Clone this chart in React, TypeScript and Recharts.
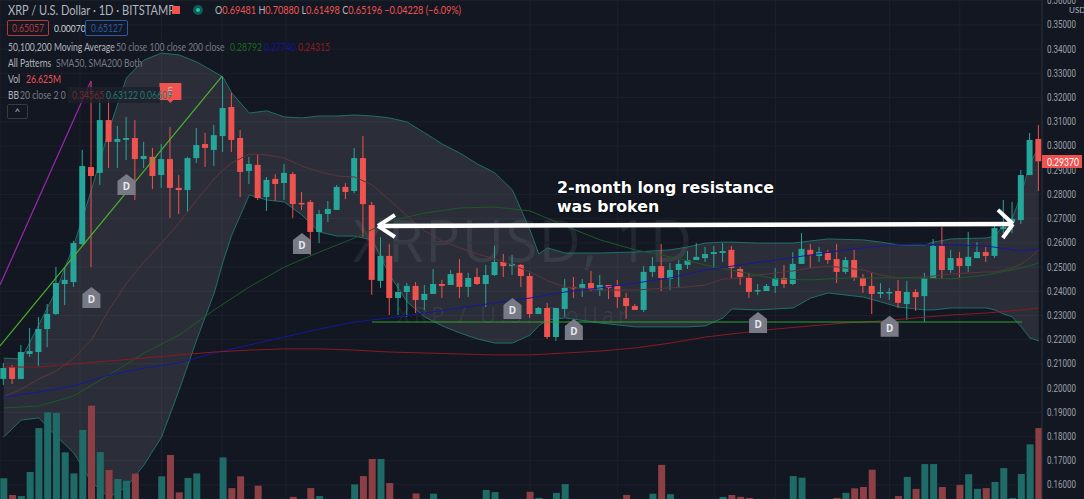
import {
  ComposedChart,
  Bar,
  Cell,
  Line,
  Area,
  XAxis,
  YAxis,
  CartesianGrid,
  ReferenceLine,
  ReferenceDot,
} from "recharts"

const opens = [
  0.2038, 0.2087, 0.2038, 0.2141, 0.2149, 0.2244, 0.2306, 0.243, 0.2438, 0.2595,
  0.2913, 0.2889, 0.3107, 0.3017, 0.3025, 0.3033, 0.2946, 0.2955, 0.288, 0.2946,
  0.2827, 0.2818, 0.295, 0.3008, 0.2984, 0.3041, 0.3161, 0.3033, 0.2897, 0.2922,
  0.2789, 0.2864, 0.2847, 0.2884, 0.2765, 0.2769, 0.2645, 0.2719, 0.2736, 0.2831,
  0.2814, 0.295, 0.2756, 0.2443, 0.2546, 0.2372, 0.2397, 0.2422, 0.2364, 0.2389,
  0.243, 0.2426, 0.2476, 0.2418, 0.2459, 0.243, 0.2467, 0.2521, 0.2504, 0.2509,
  0.2463, 0.2306, 0.2331, 0.2211, 0.2327, 0.2418, 0.2414, 0.2434, 0.2405, 0.2426,
  0.2422, 0.2372, 0.2339, 0.2323, 0.248, 0.2504, 0.2451, 0.2488, 0.2509, 0.2529,
  0.2537, 0.2554, 0.2558, 0.2571, 0.2492, 0.2455, 0.2401, 0.2401, 0.2422, 0.2455,
  0.243, 0.2513, 0.2571, 0.2546, 0.2558, 0.2533, 0.248, 0.2529, 0.2455, 0.2422,
  0.2389, 0.2393, 0.2401, 0.2347, 0.2397, 0.238, 0.2455, 0.2587, 0.2488, 0.2537,
  0.2504, 0.2537, 0.2562, 0.2546, 0.2657, 0.2686, 0.2694, 0.288, 0.3029,
]
const highs = [
  0.2104, 0.2095, 0.2178, 0.2248, 0.2294, 0.2347, 0.25, 0.25, 0.2608, 0.2984,
  0.3268, 0.3202, 0.319, 0.3083, 0.312, 0.3107, 0.3017, 0.2992, 0.3008, 0.3078,
  0.288, 0.2955, 0.3074, 0.3054, 0.3087, 0.3285, 0.3219, 0.3066, 0.2955, 0.2963,
  0.2872, 0.2884, 0.2926, 0.2893, 0.281, 0.2777, 0.2736, 0.2773, 0.2839, 0.2847,
  0.2992, 0.3041, 0.2769, 0.2624, 0.2595, 0.2434, 0.2434, 0.2438, 0.2426, 0.2492,
  0.2447, 0.2488, 0.2533, 0.2476, 0.2496, 0.2509, 0.2587, 0.2554, 0.255, 0.2513,
  0.2476, 0.2335, 0.2352, 0.2331, 0.2451, 0.2459, 0.2451, 0.2484, 0.2467, 0.2426,
  0.2447, 0.2393, 0.2347, 0.2504, 0.2542, 0.2595, 0.2517, 0.2529, 0.2566, 0.2599,
  0.2583, 0.2587, 0.2599, 0.2587, 0.25, 0.2476, 0.243, 0.243, 0.2496, 0.2509,
  0.2562, 0.2641, 0.2595, 0.2583, 0.2571, 0.2595, 0.2542, 0.2571, 0.2471, 0.2476,
  0.2434, 0.2414, 0.2447, 0.2443, 0.2409, 0.2476, 0.2616, 0.2665, 0.2571, 0.2562,
  0.2645, 0.2603, 0.2583, 0.2682, 0.2777, 0.2769, 0.2901, 0.3054, 0.3087,
]
const lows = [
  0.2013, 0.2017, 0.2038, 0.2129, 0.2091, 0.217, 0.2302, 0.2343, 0.2418, 0.2591,
  0.25, 0.2839, 0.2909, 0.2909, 0.2942, 0.2777, 0.2909, 0.2822, 0.2827, 0.2703,
  0.2719, 0.2727, 0.293, 0.2913, 0.2917, 0.2975, 0.2975, 0.2789, 0.2843, 0.2777,
  0.2732, 0.2773, 0.2777, 0.2703, 0.2736, 0.255, 0.2599, 0.2686, 0.2736, 0.2781,
  0.2805, 0.2624, 0.2385, 0.2414, 0.2302, 0.2302, 0.2294, 0.231, 0.2323, 0.2389,
  0.2372, 0.2426, 0.2372, 0.2376, 0.2426, 0.2335, 0.2463, 0.2459, 0.2467, 0.2418,
  0.229, 0.2306, 0.2203, 0.2195, 0.2294, 0.2372, 0.2376, 0.2401, 0.238, 0.2368,
  0.2331, 0.2286, 0.2323, 0.2314, 0.2459, 0.2401, 0.2405, 0.2418, 0.2492, 0.2529,
  0.2521, 0.2496, 0.2521, 0.2455, 0.2426, 0.2372, 0.2385, 0.2401, 0.2393, 0.2414,
  0.2426, 0.2513, 0.2496, 0.2521, 0.2513, 0.2434, 0.2471, 0.2443, 0.2393, 0.2306,
  0.2372, 0.2364, 0.2331, 0.2281, 0.2319, 0.2273, 0.2451, 0.2451, 0.2476, 0.2455,
  0.248, 0.2537, 0.2521, 0.2537, 0.2641, 0.2641, 0.2678, 0.288, 0.2814,
]
const closes = [
  0.2083, 0.2038, 0.2149, 0.2153, 0.2244, 0.2306, 0.2434, 0.2447, 0.2599, 0.2917,
  0.2876, 0.3107, 0.3017, 0.3029, 0.3033, 0.2946, 0.2959, 0.2876, 0.2946, 0.2827,
  0.2818, 0.295, 0.3004, 0.2992, 0.3045, 0.3157, 0.3025, 0.2893, 0.2926, 0.2785,
  0.286, 0.2843, 0.2889, 0.276, 0.276, 0.2645, 0.2719, 0.274, 0.2831, 0.281,
  0.295, 0.276, 0.2447, 0.2546, 0.2372, 0.2397, 0.2422, 0.2364, 0.2389, 0.243,
  0.2422, 0.2471, 0.2418, 0.2455, 0.243, 0.2467, 0.2521, 0.2504, 0.2513, 0.2463,
  0.2306, 0.2331, 0.2211, 0.2331, 0.2414, 0.2414, 0.243, 0.2405, 0.2426, 0.2414,
  0.2376, 0.2339, 0.2323, 0.248, 0.2504, 0.2455, 0.2488, 0.2513, 0.2529, 0.2542,
  0.2554, 0.2562, 0.2566, 0.2496, 0.2459, 0.2397, 0.2405, 0.2422, 0.2455, 0.243,
  0.2513, 0.2575, 0.255, 0.2562, 0.2529, 0.248, 0.2529, 0.2455, 0.2422, 0.2389,
  0.2397, 0.2397, 0.2352, 0.2397, 0.2376, 0.2455, 0.2587, 0.2488, 0.2537, 0.2504,
  0.2542, 0.2562, 0.2546, 0.2661, 0.2665, 0.2699, 0.288, 0.3025, 0.2937,
]
// volume in millions
const volumes = [
  7.8, 1.5, 1.1, 10.1, 26.6, 32.5, 32.3, 17.5, 9.6, 25.9,
  35, 17.6, 10.9, 7.5, 6.8, 9.5, 0, 0, 8.5, 16.5,
  2.5, 7.9, 9.6, 0, 0, 15.6, 4.1, 8.5, 0, 5,
  0, 0, 0, 0.8, 0, 4.1, 1.1, 0, 0, 0,
  5.5, 8.6, 15, 15, 6, 0, 0, 2.1, 0, 2,
  0, 0, 0, 0, 0, 3.4, 2.6, 0, 0, 0,
  2.7, 0.4, 0, 2.3, 5.6, 0, 0, 0, 0, 0,
  0, 1.5, 0, 0, 2, 12.8, 1.8, 0, 0, 0,
  0, 0, 0.8, 1.5, 0.8, 0.4, 0, 0, 0, 0,
  8.6, 8, 0, 0, 0, 0.4, 2.3, 4, 4.5, 11,
  0, 0, 1.1, 8.3, 3.8, 13.1, 13.1, 4.5, 0, 5.3,
  9.3, 3.8, 4.1, 6.4, 11.6, 0.4, 9.4, 20.5, 26.6,
]

const bbDays = [
  0, 2, 4, 6, 8, 10, 12, 14, 16, 18, 20, 22, 24, 25, 26, 28, 30, 32, 34, 36,
  38, 40, 42, 44, 46, 48, 50, 52, 54, 56, 58, 60, 61, 62, 64, 68, 72, 76, 78, 80,
  82, 83, 86, 90, 92, 94, 98, 100, 102, 105, 106, 108, 112, 113, 114, 115, 116, 117, 118,
]
const bbUpper = [
  0.2124, 0.212, 0.2261, 0.2405, 0.2591, 0.2818, 0.3066, 0.3281, 0.3355, 0.3384,
  0.3376, 0.3347, 0.3306, 0.3285, 0.3219, 0.3136, 0.3145, 0.312, 0.3116, 0.3124,
  0.3124, 0.3128, 0.3124, 0.3116, 0.3099, 0.3054, 0.3008, 0.2971, 0.2926, 0.2889,
  0.2818, 0.2653, 0.2554, 0.2579, 0.2558, 0.2558, 0.2562, 0.2571, 0.2583, 0.2599,
  0.2603, 0.2603, 0.2599, 0.2599, 0.2608, 0.2616, 0.2612, 0.2603, 0.2591, 0.2591,
  0.2603, 0.2616, 0.262, 0.2628, 0.2674, 0.2703, 0.2798, 0.293, 0.2992,
]
const bbLower = [
  0.1798, 0.1868, 0.1877, 0.1802, 0.1732, 0.1612, 0.155, 0.1592, 0.1683, 0.1798,
  0.1992, 0.2199, 0.2393, 0.2521, 0.2632, 0.2798, 0.2777, 0.2769, 0.2715, 0.2645,
  0.2628, 0.2628, 0.2612, 0.2467, 0.2356, 0.2294, 0.2257, 0.2228, 0.2203, 0.2186,
  0.2186, 0.2219, 0.2257, 0.2281, 0.229, 0.2269, 0.2253, 0.2253, 0.2253, 0.2257,
  0.229, 0.2327, 0.2323, 0.2331, 0.2372, 0.2393, 0.2376, 0.2356, 0.2335, 0.2323,
  0.2323, 0.2331, 0.2331, 0.2323, 0.2306, 0.2294, 0.2253, 0.2207, 0.2195,
]
const bbBasis = [
  0.1963, 0.1996, 0.2038, 0.2071, 0.2124, 0.2199, 0.2323, 0.2434, 0.2521, 0.2599,
  0.2682, 0.2777, 0.2864, 0.2901, 0.293, 0.2967, 0.2963, 0.295, 0.2917, 0.2893,
  0.2876, 0.2872, 0.2839, 0.2777, 0.2711, 0.2649, 0.2608, 0.2579, 0.2554, 0.2533,
  0.2509, 0.248, 0.2463, 0.2443, 0.2418, 0.2405, 0.2405, 0.2414, 0.2418, 0.2426,
  0.2451, 0.2451, 0.2467, 0.2484, 0.2496, 0.2504, 0.2488, 0.2467, 0.2455, 0.2459,
  0.2463, 0.2471, 0.248, 0.248, 0.2488, 0.2496, 0.2513, 0.2537, 0.2571,
]

const maDays = [
  0, 4, 8, 12, 16, 20, 24, 28, 32, 36, 40, 44, 48, 52, 56, 60, 64, 68, 72, 76,
  80, 84, 88, 92, 96, 100, 104, 108, 112, 116, 118,
]
const sma50 = [
  0.1918, 0.1926, 0.1968, 0.2054, 0.2145, 0.2219, 0.2323, 0.2418, 0.25, 0.2562,
  0.262, 0.269, 0.2723, 0.2744, 0.2748, 0.2732, 0.267, 0.2612, 0.2571, 0.2542,
  0.2509, 0.248, 0.2451, 0.2447, 0.2455, 0.2455, 0.2455, 0.2451, 0.2467, 0.2496, 0.2517,
]
const sma100 = [
  0.1963, 0.1984, 0.2009, 0.2054, 0.2083, 0.2104, 0.2145, 0.2178, 0.2211, 0.2244,
  0.2273, 0.229, 0.231, 0.2331, 0.2352, 0.2372, 0.2397, 0.2414, 0.2434, 0.2455,
  0.2488, 0.2509, 0.2529, 0.255, 0.2571, 0.2587, 0.2595, 0.2591, 0.2587, 0.2566, 0.2575,
]
const sma200 = [
  0.2087, 0.2087, 0.21, 0.2112, 0.2124, 0.2137, 0.2149, 0.2157, 0.2162, 0.2162,
  0.2157, 0.2149, 0.2145, 0.2141, 0.2137, 0.2137, 0.2145, 0.2153, 0.2166, 0.2186,
  0.2211, 0.2228, 0.2244, 0.2257, 0.2269, 0.2277, 0.229, 0.2302, 0.231, 0.2323, 0.2331,
]

const dividendDays = [14, 34, 10, 58, 65, 86, 101]
const dividendPrices = [0.2839, 0.2595, 0.2372, 0.2327, 0.224, 0.2269, 0.2253]

const priceTicks = [
  0.16, 0.17, 0.18, 0.19, 0.2, 0.21, 0.22, 0.23, 0.24, 0.25, 0.26, 0.27, 0.28, 0.29,
  0.3, 0.31, 0.32, 0.33, 0.34, 0.35, 0.36,
]
const gridDays = [8.7, 18, 24.9, 32.2, 60, 70, 81, 88, 101, 109]

const UP = "#26a69a"
const DOWN = "#ef5350"
const X_DOMAIN = [-0.42, 118.37]

const candleRows = opens.map((open, i) => ({
  day: i,
  open,
  high: highs[i],
  low: lows[i],
  close: closes[i],
  volume: volumes[i],
}))
const bbRows = bbDays.map((day, i) => ({
  day,
  upper: bbUpper[i],
  lower: bbLower[i],
  basis: bbBasis[i],
}))
const maRows = maDays.map((day, i) => ({
  day,
  sma50: sma50[i],
  sma100: sma100[i],
  sma200: sma200[i],
}))

function Candle(props: any) {
  const { x, y, width, height, payload } = props
  const { open, high, low, close } = payload
  const perUnit = height / (high - low)
  const yOf = (v: number) => y + (high - v) * perUnit
  const color = close >= open ? UP : DOWN
  const top = yOf(Math.max(open, close))
  const bottom = yOf(Math.min(open, close))
  const mid = x + width / 2
  return (
    <g>
      <line x1={mid} x2={mid} y1={y} y2={y + height} stroke={color} strokeWidth={1} />
      <rect x={x} y={top} width={width} height={Math.max(bottom - top, 1.5)} fill={color} />
    </g>
  )
}

function DividendMark({ cx, cy }: any) {
  return (
    <g>
      <path
        d={`M${cx - 9} ${cy - 4} L${cx} ${cy - 11} L${cx + 9} ${cy - 4} L${cx + 9} ${cy + 10} L${cx - 9} ${cy + 10} Z`}
        fill="#787b86"
      />
      <text x={cx} y={cy + 5} textAnchor="middle" fontSize={10} fontFamily="Noto Sans" fontWeight={700} fill="#e6e7ea">
        D
      </text>
    </g>
  )
}

function EarningsMark({ cx, cy }: any) {
  return (
    <g>
      <path
        d={`M${cx - 11} ${cy - 9} L${cx + 11} ${cy - 9} L${cx + 11} ${cy + 8} L${cx + 3} ${cy + 8} L${cx} ${cy + 11} L${cx - 3} ${cy + 8} L${cx - 11} ${cy + 8} Z`}
        fill={DOWN}
      />
      <text x={cx} y={cy + 3} textAnchor="middle" fontSize={10} fontFamily="Noto Sans" fill="#c9a3a6">
        E
      </text>
    </g>
  )
}

function PriceTick({ x, y, payload }: any) {
  return (
    <text
      x={x}
      y={y + 3.5}
      fontSize={10.5}
      fontFamily="Roboto"
      fill="#9da0a8"
      textLength={29}
      lengthAdjust="spacingAndGlyphs"
    >
      {payload.value.toFixed(5)}
    </text>
  )
}

const font = "Lato, 'Noto Sans', sans-serif"

// the reference screenshot is squeezed sideways, so labels get a scaleX
function Txt({ x, y, color = "#b2b5be", size = 12, sx = 0.715, children }: any) {
  return (
    <div
      style={{
        position: "absolute",
        left: x,
        top: y,
        color,
        fontSize: size,
        lineHeight: "14px",
        whiteSpace: "nowrap",
        transform: `scaleX(${sx})`,
        transformOrigin: "left center",
      }}
    >
      {children}
    </div>
  )
}

function Watermark({ x, y, size, spacing, children }: any) {
  return (
    <div
      style={{
        position: "absolute",
        left: x,
        top: y,
        fontSize: size,
        lineHeight: `${size + 10}px`,
        letterSpacing: spacing,
        color: "rgba(255,255,255,0.07)",
        fontFamily: "'Open Sans'",
        whiteSpace: "nowrap",
      }}
    >
      {children}
    </div>
  )
}

export default function App() {
  return (
    <div
      style={{
        position: "absolute",
        left: 0,
        top: 0,
        width: 1084,
        height: 499,
        overflow: "hidden",
        background: "#131722",
        fontFamily: font,
      }}
    >
      <Watermark x={353} y={206} size={58} spacing={1.5}>XRPUSD, 1D</Watermark>
      <Watermark x={397} y={298} size={22} spacing={4}>XRP / U.S. Dollar</Watermark>

      <div style={{ position: "absolute", left: 0, top: 0 }}>
        <ComposedChart
          width={1084}
          height={499}
          data={candleRows}
          margin={{ top: 0, right: 0, bottom: 0, left: 0 }}
        >
          <CartesianGrid yAxisId="price" stroke="#1c202c" strokeWidth={1} />
          <XAxis
            dataKey="day"
            type="number"
            domain={X_DOMAIN}
            ticks={gridDays}
            allowDataOverflow
            hide
          />
          <XAxis xAxisId="volume" dataKey="day" type="number" domain={X_DOMAIN} allowDataOverflow hide />
          <YAxis
            yAxisId="price"
            orientation="right"
            width={42}
            domain={[0.1542, 0.3603]}
            ticks={priceTicks}
            interval={0}
            allowDataOverflow
            tick={<PriceTick />}
            tickLine={false}
            tickSize={0}
            tickMargin={5}
            stroke="#2a2e39"
          />
          <YAxis yAxisId="volume" hide domain={[0, 187.1]} />

          <Bar xAxisId="volume" yAxisId="volume" dataKey="volume" barSize={7} isAnimationActive={false}>
            {candleRows.map((row) => (
              <Cell key={row.day} fill={row.close >= row.open ? "#1f6b67" : "#8c3f44"} />
            ))}
          </Bar>

          <Area
            yAxisId="price"
            data={bbRows}
            dataKey={(d: any) => [d.lower, d.upper]}
            type="linear"
            stroke="#1f6f69"
            strokeWidth={1}
            fill="#ffffff"
            fillOpacity={0.1}
            dot={false}
            activeDot={false}
            isAnimationActive={false}
          />
          <Line yAxisId="price" data={bbRows} dataKey="basis" stroke="#5e353b" strokeWidth={1} dot={false} activeDot={false} isAnimationActive={false} />
          <Line yAxisId="price" data={maRows} dataKey="sma50" stroke="#1c5a28" strokeWidth={1} dot={false} activeDot={false} isAnimationActive={false} />
          <Line yAxisId="price" data={maRows} dataKey="sma100" stroke="#16189a" strokeWidth={1} dot={false} activeDot={false} isAnimationActive={false} />
          <Line yAxisId="price" data={maRows} dataKey="sma200" stroke="#8a1a22" strokeWidth={1} dot={false} activeDot={false} isAnimationActive={false} />

          <ReferenceLine yAxisId="price" segment={[{ x: -0.42, y: 0.2426 }, { x: 9.95, y: 0.3268 }]} stroke="#9c27b0" strokeWidth={1.2} />
          <ReferenceLine yAxisId="price" segment={[{ x: -0.42, y: 0.2174 }, { x: 24.9, y: 0.3289 }]} stroke="#4cb32b" strokeWidth={1.2} />
          <ReferenceLine yAxisId="price" segment={[{ x: 42, y: 0.2273 }, { x: 116.1, y: 0.2273 }]} stroke="#2fa32a" strokeWidth={1.2} />

          <Bar
            yAxisId="price"
            dataKey={(d: any) => [d.low, d.high]}
            barSize={6}
            shape={<Candle />}
            isAnimationActive={false}
          />

          {dividendDays.map((day, i) => (
            <ReferenceDot
              key={day}
              yAxisId="price"
              x={day}
              y={dividendPrices[i]}
              shape={(p: any) => <DividendMark cx={p.cx} cy={p.cy} />}
            />
          ))}
          <ReferenceDot yAxisId="price" x={19} y={0.3223} shape={(p: any) => <EarningsMark cx={p.cx} cy={p.cy} />} />

          <ReferenceLine yAxisId="price" segment={[{ x: 42.67, y: 0.267 }, { x: 115.06, y: 0.2678 }]} stroke="#ffffff" strokeWidth={4.5} />
          <ReferenceLine yAxisId="price" segment={[{ x: 42.67, y: 0.267 }, { x: 44.6, y: 0.2715 }]} stroke="#ffffff" strokeWidth={4} />
          <ReferenceLine yAxisId="price" segment={[{ x: 42.67, y: 0.267 }, { x: 44.6, y: 0.2624 }]} stroke="#ffffff" strokeWidth={4} />
          <ReferenceLine yAxisId="price" segment={[{ x: 115.06, y: 0.2678 }, { x: 113.35, y: 0.2736 }]} stroke="#ffffff" strokeWidth={4} />
          <ReferenceLine yAxisId="price" segment={[{ x: 115.06, y: 0.2678 }, { x: 113.9, y: 0.262 }]} stroke="#ffffff" strokeWidth={4} />
        </ComposedChart>
      </div>

      <div
        style={{
          position: "absolute",
          left: 557,
          top: 178,
          color: "#ffffff",
          fontFamily: "'DejaVu Sans'",
          fontWeight: 700,
          fontSize: 15.8,
          lineHeight: "19px",
          whiteSpace: "nowrap",
          textShadow: "0 0 2px #000",
        }}
      >
        2-month long resistance
        <br />
        was broken
      </div>

      <Txt x={8} y={3} size={13} sx={0.85}>XRP / U.S. Dollar · 1D · BITSTAMP</Txt>
      <div style={{ position: "absolute", left: 172, top: 6, width: 8, height: 8, background: DOWN }} />
      <div style={{ position: "absolute", left: 193, top: 5, width: 10, height: 10, borderRadius: 5, background: "#0f5c55" }} />
      <div style={{ position: "absolute", left: 196, top: 8, width: 4, height: 4, borderRadius: 2, background: "#26c6b0" }} />
      <Txt x={215} y={3} color={DOWN} size={11.5} sx={0.79}>
        <span style={{ color: "#b2b5be" }}>O</span>0.69481{" "}
        <span style={{ color: "#b2b5be" }}>H</span>0.70880{" "}
        <span style={{ color: "#b2b5be" }}>L</span>0.61498{" "}
        <span style={{ color: "#b2b5be" }}>C</span>0.65196 −0.04228 (−6.09%)
      </Txt>

      <div style={{ position: "absolute", left: 7, top: 20, width: 40, height: 14, border: "1px solid #b3393a", borderRadius: 2 }} />
      <Txt x={12} y={21} color="#b3393a">0.65057</Txt>
      <Txt x={54} y={21} size={10} sx={0.85} color="#d1d4dc">0.00070</Txt>
      <div style={{ position: "absolute", left: 85, top: 20, width: 41, height: 14, border: "1px solid #2a5aa8", borderRadius: 2 }} />
      <Txt x={91} y={21} color="#2a5aa8">0.65127</Txt>

      <Txt x={8} y={40}>50,100,200 Moving Average</Txt>
      <Txt x={116} y={40} color="#787b86">50 close 100 close 200 close</Txt>
      <Txt x={230} y={40} color="#146b1c">0.28792</Txt>
      <Txt x={264} y={40} color="#14149a">0.27740</Txt>
      <Txt x={298} y={40} color="#8f1a1f">0.24315</Txt>

      <Txt x={8} y={56}>All Patterns</Txt>
      <Txt x={56} y={56} color="#787b86">SMA50, SMA200 Both</Txt>

      <Txt x={8} y={72}>Vol</Txt>
      <Txt x={26} y={72} color={DOWN}>26.625M</Txt>

      <div style={{ position: "absolute", left: 68, top: 87, width: 92, height: 16, background: "rgba(30,33,42,0.8)" }} />
      <Txt x={8} y={88}>BB</Txt>
      <Txt x={20} y={88} color="#787b86">20 close 2 0</Txt>
      <Txt x={72} y={88} color="#6e2a2e">0.34565</Txt>
      <Txt x={106} y={88} color="#1f7a72">0.63122</Txt>
      <Txt x={140} y={88} color="#1f7a72">0.06609</Txt>
      <div style={{ position: "absolute", left: 7, top: 104, width: 19, height: 13, border: "1px solid #363a45", borderRadius: 2, color: "#b2b5be", fontSize: 10, lineHeight: "13px", textAlign: "center" }}>^</div>

      <Txt x={1069} y={3} size={8} sx={1}>USD</Txt>
      <div style={{ position: "absolute", left: 1042, top: 155, width: 40, height: 13, background: DOWN }} />
      <Txt x={1047} y={155} size={10.5} sx={0.82} color="#ffffff">0.29370</Txt>
    </div>
  )
}
